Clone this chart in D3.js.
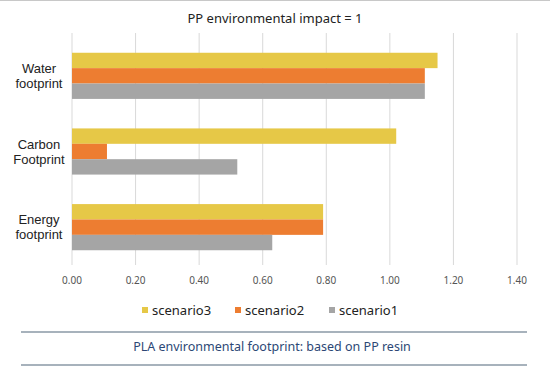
<!DOCTYPE html>
<html>
<head>
<meta charset="utf-8">
<script src="https://cdn.jsdelivr.net/npm/d3@7"></script>
<style>
  body { margin: 0; background: #fff; }
  svg { display: block; font-family: "Noto Sans", sans-serif; }
</style>
</head>
<body>
<svg></svg>
<script>
const width = 550;
const height = 370;

// data
const categories = ["Water footprint", "Carbon Footprint", "Energy footprint"];
const categoryLines = [["Water", "footprint"], ["Carbon", "Footprint"], ["Energy", "footprint"]];
const seriesNames = ["scenario3", "scenario2", "scenario1"];
const scenario3 = [1.15, 1.02, 0.79];
const scenario2 = [1.11, 0.11, 0.79];
const scenario1 = [1.11, 0.52, 0.63];
const xTicks = [0, 0.2, 0.4, 0.6, 0.8, 1.0, 1.2, 1.4];
const colors = ["#e6c847", "#ed7d31", "#a5a5a5"];

const seriesValues = [scenario3, scenario2, scenario1];

const svg = d3.select("svg")
    .attr("width", width)
    .attr("height", height);

const x = d3.scaleLinear()
    .domain([0, 1.4])
    .range([72, 517]);

const y = d3.scaleBand()
    .domain(categories)
    .range([38, 265])
    .paddingInner(0.39)
    .paddingOuter(0.195);

const ySub = d3.scaleBand()
    .domain(seriesNames)
    .range([0, y.bandwidth()]);

// top border
svg.append("line")
    .attr("x1", 0).attr("x2", width)
    .attr("y1", 0.5).attr("y2", 0.5)
    .attr("stroke", "#c8c8c8");

svg.append("text")
    .attr("x", 275)
    .attr("y", 23)
    .attr("text-anchor", "middle")
    .attr("font-size", 13)
    .attr("fill", "#222")
    .text("PP environmental impact = 1");

// gridlines
svg.append("g")
    .selectAll("line")
    .data(xTicks)
    .join("line")
    .attr("x1", d => x(d)).attr("x2", d => x(d))
    .attr("y1", 33).attr("y2", 265)
    .attr("stroke", "#d9d9d9")
    .attr("stroke-width", 1);

// bars
const groups = svg.append("g")
    .selectAll("g")
    .data(seriesNames)
    .join("g")
    .attr("fill", (d, i) => colors[i]);

groups.selectAll("rect")
    .data((s, i) => categories.map((c, j) => ({ cat: c, s: s, v: seriesValues[i][j] })))
    .join("rect")
    .attr("x", x(0))
    .attr("y", d => y(d.cat) + ySub(d.s))
    .attr("width", d => x(d.v) - x(0))
    .attr("height", ySub.bandwidth());

// category labels, one text per line (tighter font metrics so lines don't collide)
const labelRows = categories.flatMap((c, i) =>
    categoryLines[i].map((line, k) => ({ cat: c, line: line, k: k })));

svg.append("g")
    .selectAll("text")
    .data(labelRows)
    .join("text")
    .attr("text-anchor", "middle")
    .attr("font-family", "'Liberation Sans', Arial, sans-serif")
    .attr("font-size", 13)
    .attr("fill", "#222")
    .attr("x", 39)
    .attr("y", d => y(d.cat) + y.bandwidth() / 2 - 3 + d.k * 15)
    .text(d => d.line);

// x axis tick labels
svg.append("g")
    .selectAll("text")
    .data(xTicks)
    .join("text")
    .attr("x", d => x(d))
    .attr("y", 284)
    .attr("text-anchor", "middle")
    .attr("font-size", 10)
    .attr("fill", "#555")
    .text(d3.format(".2f"));

// legend
const legendX = [142, 235, 329];
const legend = svg.append("g")
    .selectAll("g")
    .data(seriesNames)
    .join("g")
    .attr("transform", (d, i) => `translate(${legendX[i]}, 310)`);

legend.append("rect")
    .attr("x", 0).attr("y", -3)
    .attr("width", 6).attr("height", 6)
    .attr("fill", (d, i) => colors[i]);

legend.append("text")
    .attr("x", 10)
    .attr("y", 4.5)
    .attr("font-size", 13)
    .attr("fill", "#222")
    .text(d => d);

// caption with rules
svg.append("line")
    .attr("x1", 21).attr("x2", 527)
    .attr("y1", 332).attr("y2", 332)
    .attr("stroke", "#8a98a6").attr("stroke-width", 1.5);

svg.append("text")
    .attr("x", 272)
    .attr("y", 351)
    .attr("text-anchor", "middle")
    .attr("font-size", 12.5)
    .attr("fill", "#2c4775")
    .text("PLA environmental footprint: based on PP resin");

svg.append("line")
    .attr("x1", 21).attr("x2", 527)
    .attr("y1", 365).attr("y2", 365)
    .attr("stroke", "#8a98a6").attr("stroke-width", 1.5);
</script>
</body>
</html>
